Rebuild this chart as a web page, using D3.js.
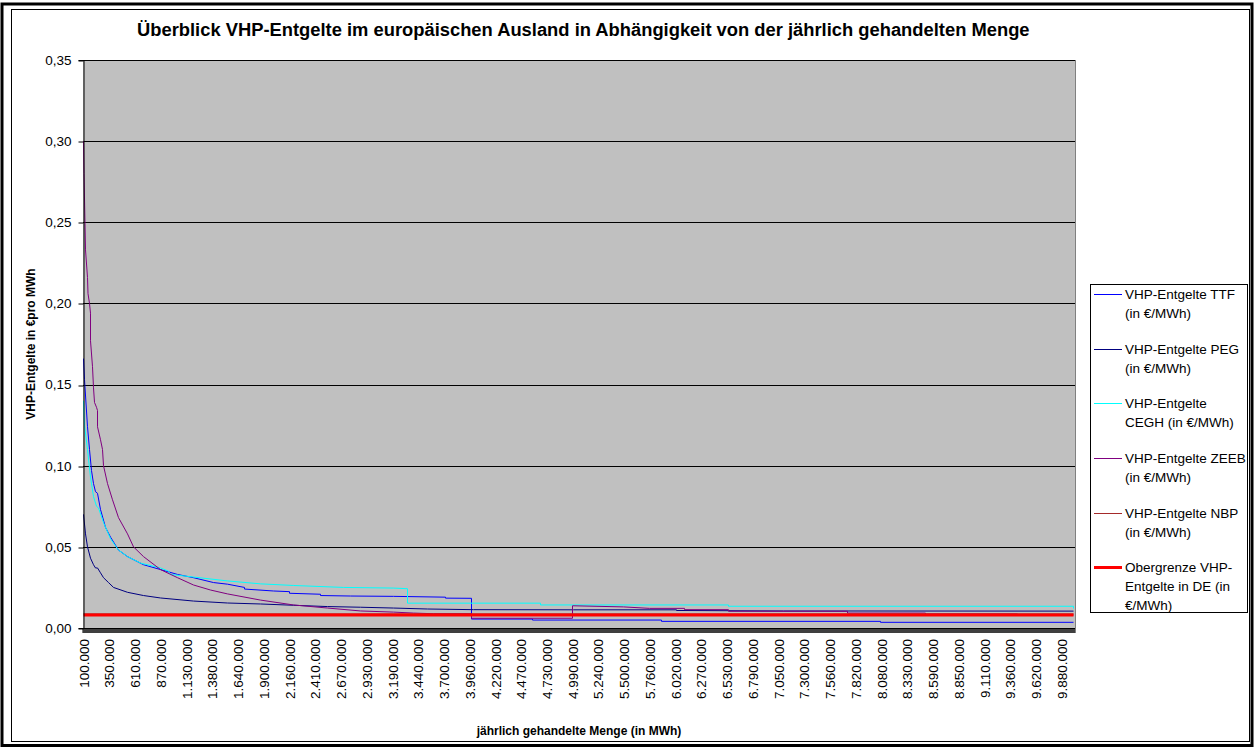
<!DOCTYPE html>
<html><head><meta charset="utf-8">
<script src="https://cdn.jsdelivr.net/npm/d3@7"></script>
<style>
html,body{margin:0;padding:0;background:#fff;}
text{font-family:"Liberation Sans",Arial,sans-serif;}
</style></head>
<body>
<svg id="chart" width="1258" height="749"></svg>
<script>
// ---------- data ----------
const xTickLabels = [100000,350000,610000,870000,1130000,1380000,1640000,1900000,2160000,2410000,2670000,2930000,3190000,3440000,3700000,3960000,4220000,4470000,4730000,4990000,5240000,5500000,5760000,6020000,6270000,6530000,6790000,7050000,7300000,7560000,7820000,8080000,8330000,8590000,8850000,9110000,9360000,9620000,9880000];
const yTickValues = [0,0.05,0.10,0.15,0.20,0.25,0.30,0.35];

const seriesNames = ["VHP-Entgelte TTF (in €/MWh)","VHP-Entgelte PEG (in €/MWh)","VHP-Entgelte CEGH (in €/MWh)","VHP-Entgelte ZEEB (in €/MWh)","VHP-Entgelte NBP (in €/MWh)","Obergrenze VHP-Entgelte in DE (in €/MWh)"];
const legendLines = [["VHP-Entgelte TTF","(in €/MWh)"],["VHP-Entgelte PEG","(in €/MWh)"],["VHP-Entgelte","CEGH (in €/MWh)"],["VHP-Entgelte ZEEB","(in €/MWh)"],["VHP-Entgelte NBP","(in €/MWh)"],["Obergrenze VHP-","Entgelte in DE (in","€/MWh)"]];
const seriesColors = ["#0000FF","#000080","#00FFFF","#800080","#A52A2A","#FF0000"];
const seriesWidths = [1,1,1,1,1,3];

// [jährlich gehandelte Menge (MWh), Entgelt (€/MWh)]
const ttf = [[100000,0.166],[110000,0.153],[140000,0.124],[160000,0.110],[180000,0.097],[200000,0.089],[220000,0.084],[240000,0.083],[270000,0.073],[320000,0.062],[370000,0.056],[450000,0.048],[540000,0.044],[700000,0.039],[870000,0.036],[1040000,0.033],[1200000,0.031],[1400000,0.028],[1540000,0.027],[1710000,0.0250],[1710000,0.0240],[2000000,0.0228],[2160000,0.0224],[2160000,0.0214],[2470000,0.0208],[2470000,0.0200],[2770000,0.0197],[3200000,0.0195],[3720000,0.0190],[3720000,0.0184],[3980000,0.0183],[3980000,0.0055],[4590000,0.0055],[4590000,0.0049],[5880000,0.0049],[5880000,0.0041],[8070000,0.0041],[8070000,0.0035],[10000000,0.0035]];
const peg = [[100000,0.070],[120000,0.058],[140000,0.050],[170000,0.043],[200000,0.039],[220000,0.037],[240000,0.037],[270000,0.034],[300000,0.031],[350000,0.028],[400000,0.025],[540000,0.022],[700000,0.020],[870000,0.0185],[1200000,0.0166],[1540000,0.0154],[1870000,0.0148],[2200000,0.0140],[2540000,0.0132],[2870000,0.0128],[3200000,0.0123],[3540000,0.0117],[4000000,0.0113],[5000000,0.0112],[6030000,0.0112],[6030000,0.0108],[7100000,0.0105],[10000000,0.0104]];
const cegh = [[100000,0.140],[110000,0.125],[140000,0.110],[170000,0.093],[200000,0.081],[230000,0.075],[250000,0.074],[300000,0.065],[370000,0.055],[450000,0.048],[540000,0.044],[670000,0.040],[870000,0.037],[950000,0.035],[970000,0.033],[1200000,0.0314],[1540000,0.0290],[1870000,0.0272],[2200000,0.0262],[2700000,0.0250],[3200000,0.0246],[3340000,0.0242],[3340000,0.0153],[4670000,0.0153],[4670000,0.0142],[6550000,0.0142],[6550000,0.0134],[10000000,0.0134],[10000000,0.0120]];
const zeeb = [[100000,0.300],[105000,0.280],[120000,0.233],[140000,0.216],[145000,0.206],[160000,0.200],[170000,0.194],[170000,0.177],[190000,0.161],[200000,0.148],[210000,0.139],[230000,0.136],[240000,0.134],[240000,0.124],[270000,0.116],[290000,0.110],[300000,0.100],[340000,0.089],[390000,0.079],[450000,0.068],[540000,0.058],[600000,0.050],[700000,0.044],[870000,0.036],[1040000,0.031],[1200000,0.0265],[1370000,0.0234],[1540000,0.0210],[1870000,0.0172],[2200000,0.0142],[2540000,0.0123],[2870000,0.0105],[3200000,0.0098],[3400000,0.0092],[3600000,0.0088],[3980000,0.0088],[3980000,0.0060],[4990000,0.0060],[4990000,0.0137],[5500000,0.0130],[5760000,0.0121],[6110000,0.0121],[6110000,0.0113],[6550000,0.0113],[6550000,0.0103],[7740000,0.0103],[7740000,0.0092],[8520000,0.0092],[8520000,0.0086],[9440000,0.0086],[9440000,0.0080],[10000000,0.0080]];
const nbp = [[100000,0.0087],[10000000,0.0087]];
const obergrenze = [[100000,0.0080],[10000000,0.0080]];
const allSeries = [ttf, peg, cegh, zeeb, nbp, obergrenze];

// ---------- layout ----------
const svg = d3.select("#chart");
const L = 83, R = 1075, T = 60, B = 628;
const x = d3.scaleLinear().domain([95000, 10015000]).range([L, R]);
const y = d3.scaleLinear().domain([0, 0.35]).range([B, T]);
const loc = d3.formatLocale({decimal:",", thousands:".", grouping:[3], currency:["","€"]});
const fmtX = loc.format(",d");

svg.append("rect").attr("width",1258).attr("height",749).attr("fill","#fff");

// frames
svg.append("rect").attr("x",2).attr("y",4).attr("width",1250).attr("height",741.5)
  .attr("fill","none").attr("stroke","#000").attr("stroke-width",3);
svg.append("rect").attr("x",11.5).attr("y",9.5).attr("width",1238).attr("height",732)
  .attr("fill","none").attr("stroke","#000").attr("stroke-width",1);

// plot area
svg.append("rect").attr("x",L).attr("y",T).attr("width",R-L).attr("height",B-T).attr("fill","#C0C0C0");
svg.append("line").attr("x1",R+0.5).attr("x2",R+0.5).attr("y1",T).attr("y2",B).attr("stroke","#808080");

// gridlines
svg.append("g").selectAll("line").data(yTickValues.filter(v=>v>0)).join("line")
  .attr("x1",L).attr("x2",R)
  .attr("y1",d=>Math.round(y(d))+0.5).attr("y2",d=>Math.round(y(d))+0.5)
  .attr("stroke","#000").attr("stroke-width",1);

// series
const line = d3.line().x(d=>x(d[0])).y(d=>y(d[1]));
svg.append("g").selectAll("path").data(allSeries).join("path")
  .attr("d",line).attr("fill","none")
  .attr("stroke",(d,i)=>seriesColors[i]).attr("stroke-width",(d,i)=>seriesWidths[i])
  .attr("stroke-linejoin","miter");

// y axis
const yAxis = svg.append("g").attr("transform",`translate(${L+0.5},0)`)
  .call(d3.axisLeft(y).tickValues(yTickValues).tickSize(5).tickPadding(7)
     .tickFormat(d=>d.toFixed(2).replace(".",",")));
yAxis.selectAll("text").style("font-size","13.5px").attr("fill","#000");
yAxis.selectAll("line,path").attr("stroke","#000");
yAxis.selectAll(".tick line").attr("transform",d=>`translate(0,${Math.round(y(d))+0.5-y(d)})`);

// x axis: dense category tick marks
const catTicks = d3.range(95000, 10015001, 10000);
const xTicks = svg.append("g").attr("transform",`translate(0,${B})`);
xTicks.selectAll("line").data(catTicks).join("line")
  .attr("x1",d=>x(d)).attr("x2",d=>x(d)).attr("y1",0).attr("y2",5)
  .attr("stroke","#000").attr("stroke-width",1);
svg.append("line").attr("x1",L).attr("x2",R).attr("y1",B+0.5).attr("y2",B+0.5).attr("stroke","#000");

// x labels
const xAxis = svg.append("g").attr("transform",`translate(0,${B})`)
  .call(d3.axisBottom(x).tickValues(xTickLabels).tickSize(0).tickFormat(fmtX));
xAxis.select(".domain").remove();
xAxis.selectAll("text").style("font-size","13.5px").attr("fill","#000")
  .attr("transform","rotate(-90)").attr("x",-11).attr("y",0).attr("dy","0.35em")
  .style("text-anchor","end");

// titles
const title = svg.append("text").attr("x",137).attr("y",36)
  .style("font-weight","bold").style("font-size","15.5px")
  .text("Überblick VHP-Entgelte im europäischen Ausland in Abhängigkeit von der jährlich gehandelten Menge");
const tw = title.node().getComputedTextLength();
title.style("font-size",(15.5*893/tw).toFixed(2)+"px");

svg.append("text").attr("transform","translate(35,344) rotate(-90)")
  .attr("text-anchor","middle").style("font-weight","bold").style("font-size","12px")
  .text("VHP-Entgelte in €pro MWh");
svg.append("text").attr("x",(L+R)/2).attr("y",735)
  .attr("text-anchor","middle").style("font-weight","bold").style("font-size","12px")
  .text("jährlich gehandelte Menge (in MWh)");

// legend
const lg = svg.append("g");
lg.append("rect").attr("x",1090.5).attr("y",284.5).attr("width",157).attr("height",328)
  .attr("fill","#fff").attr("stroke","#000").attr("stroke-width",1);
const rowY = [294,349,403,458,513,567];
legendLines.forEach((lines,i)=>{
  lg.append("line").attr("x1",1094).attr("x2",1122).attr("y1",rowY[i]+0.5).attr("y2",rowY[i]+0.5)
    .attr("stroke",seriesColors[i]).attr("stroke-width",seriesWidths[i]);
  lines.forEach((t,j)=>{
    lg.append("text").attr("x",1125).attr("y",rowY[i]+j*19).attr("dy","0.35em")
      .style("font-size","13.5px").text(t);
  });
});
</script>
</body></html>
